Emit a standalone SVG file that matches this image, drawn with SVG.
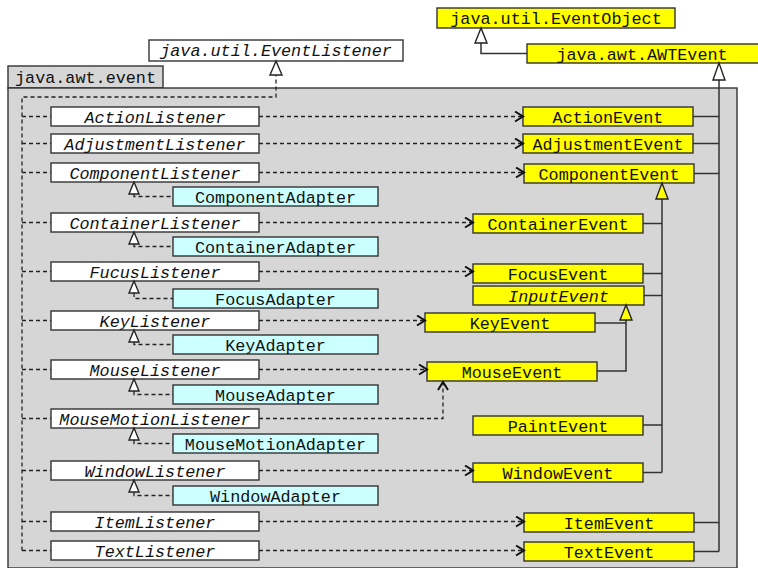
<svg xmlns="http://www.w3.org/2000/svg" width="758" height="568" viewBox="0 0 758 568">
<style>
text{font-family:"Liberation Mono","Courier New",monospace;font-size:16.8px;fill:#111;text-anchor:middle}
.it{font-style:italic}
.box{stroke:#333;stroke-width:1.4}
.lis{fill:#ffffff}
.ada{fill:#ccffff}
.evt{fill:#ffff00}
.pkg{fill:#d6d6d6;stroke:#333;stroke-width:1.4}
.dash{fill:none;stroke:#222;stroke-width:1.3;stroke-dasharray:4 3}
.solid{fill:none;stroke:#333;stroke-width:1.5}
.tri{fill:#fff;stroke:#222;stroke-width:1.4}
.triy{fill:#ffff00;stroke:#222;stroke-width:1.4}
</style>
<defs>
<marker id="open" markerWidth="12" markerHeight="12" refX="9" refY="6" orient="auto" markerUnits="userSpaceOnUse">
<path d="M1,1 L9,6 L1,11" fill="none" stroke="#111" stroke-width="2"/>
</marker>
</defs>

<g id="package">
<rect class="pkg" x="8" y="66" width="155" height="22"/>
<rect class="pkg" x="8" y="88" width="729" height="480"/>
<text x="85.5" y="83">java.awt.event</text>
</g>

<g id="EventListener"><rect class="box lis" x="149" y="40" width="254" height="21"/><text class="it" x="276" y="56">java.util.EventListener</text></g>
<g id="EventObject"><rect class="box evt" x="437" y="8" width="238" height="20"/><text x="556" y="24">java.util.EventObject</text></g>
<g id="AWTEvent"><rect class="box evt" x="527" y="44" width="232" height="19"/><text x="642" y="60">java.awt.AWTEvent</text></g>

<g id="ActionListener"><rect class="box lis" x="51" y="107" width="208" height="19"/><text class="it" x="155" y="122.5">ActionListener</text></g>
<g id="AdjustmentListener"><rect class="box lis" x="51" y="134" width="208" height="19"/><text class="it" x="155" y="149.5">AdjustmentListener</text></g>
<g id="ComponentListener"><rect class="box lis" x="51" y="163" width="208" height="19"/><text class="it" x="155" y="178.5">ComponentListener</text></g>
<g id="ContainerListener"><rect class="box lis" x="51" y="213" width="208" height="19"/><text class="it" x="155" y="228.5">ContainerListener</text></g>
<g id="FucusListener"><rect class="box lis" x="51" y="262" width="208" height="19"/><text class="it" x="155" y="277.5">FucusListener</text></g>
<g id="KeyListener"><rect class="box lis" x="51" y="311" width="208" height="19"/><text class="it" x="155" y="326.5">KeyListener</text></g>
<g id="MouseListener"><rect class="box lis" x="51" y="360" width="208" height="19"/><text class="it" x="155" y="375.5">MouseListener</text></g>
<g id="MouseMotionListener"><rect class="box lis" x="51" y="409" width="208" height="19"/><text class="it" x="155" y="424.5">MouseMotionListener</text></g>
<g id="WindowListener"><rect class="box lis" x="51" y="461" width="208" height="19"/><text class="it" x="155" y="476.5">WindowListener</text></g>
<g id="ItemListener"><rect class="box lis" x="51" y="512" width="208" height="19"/><text class="it" x="155" y="527.5">ItemListener</text></g>
<g id="TextListener"><rect class="box lis" x="51" y="541" width="208" height="19"/><text class="it" x="155" y="556.5">TextListener</text></g>

<g id="ComponentAdapter"><rect class="box ada" x="173" y="187" width="205" height="19"/><text x="275.5" y="202.5">ComponentAdapter</text></g>
<g id="ContainerAdapter"><rect class="box ada" x="173" y="237" width="205" height="19"/><text x="275.5" y="252.5">ContainerAdapter</text></g>
<g id="FocusAdapter"><rect class="box ada" x="173" y="289" width="205" height="19"/><text x="275.5" y="304.5">FocusAdapter</text></g>
<g id="KeyAdapter"><rect class="box ada" x="173" y="335" width="205" height="19"/><text x="275.5" y="350.5">KeyAdapter</text></g>
<g id="MouseAdapter"><rect class="box ada" x="173" y="385" width="205" height="19"/><text x="275.5" y="400.5">MouseAdapter</text></g>
<g id="MouseMotionAdapter"><rect class="box ada" x="173" y="434" width="205" height="19"/><text x="275.5" y="449.5">MouseMotionAdapter</text></g>
<g id="WindowAdapter"><rect class="box ada" x="173" y="486" width="205" height="19"/><text x="275.5" y="501.5">WindowAdapter</text></g>

<g id="ActionEvent"><rect class="box evt" x="523" y="107" width="170" height="19"/><text x="608" y="122.5">ActionEvent</text></g>
<g id="AdjustmentEvent"><rect class="box evt" x="523" y="134" width="170" height="19"/><text x="608" y="149.5">AdjustmentEvent</text></g>
<g id="ComponentEvent"><rect class="box evt" x="524" y="164" width="170" height="19"/><text x="609" y="179.5">ComponentEvent</text></g>
<g id="ContainerEvent"><rect class="box evt" x="473" y="214" width="170" height="19"/><text x="558" y="229.5">ContainerEvent</text></g>
<g id="FocusEvent"><rect class="box evt" x="473" y="264" width="170" height="19"/><text x="558" y="279.5">FocusEvent</text></g>
<g id="InputEvent"><rect class="box evt" x="473" y="286" width="171" height="19"/><text class="it" x="558.5" y="301.5">InputEvent</text></g>
<g id="KeyEvent"><rect class="box evt" x="425" y="313" width="170" height="19"/><text x="510" y="328.5">KeyEvent</text></g>
<g id="MouseEvent"><rect class="box evt" x="427" y="362" width="170" height="19"/><text x="512" y="377.5">MouseEvent</text></g>
<g id="PaintEvent"><rect class="box evt" x="473" y="416" width="170" height="19"/><text x="558" y="431.5">PaintEvent</text></g>
<g id="WindowEvent"><rect class="box evt" x="473" y="463" width="170" height="19"/><text x="558" y="478.5">WindowEvent</text></g>
<g id="ItemEvent"><rect class="box evt" x="524" y="513" width="170" height="19"/><text x="609" y="528.5">ItemEvent</text></g>
<g id="TextEvent"><rect class="box evt" x="524" y="542" width="170" height="19"/><text x="609" y="557.5">TextEvent</text></g>

<g id="connectors">
<!-- listener realization trunk -->
<path class="dash" d="M22,550.5 V97 H276 V75"/>
<path class="dash" d="M22,116.5 H51 M22,143.5 H51 M22,172.5 H51 M22,222.5 H51 M22,271.5 H51 M22,320.5 H51 M22,369.5 H51 M22,418.5 H51 M22,470.5 H51 M22,521.5 H51 M22,550.5 H51"/>
<polygon class="tri" points="276,61 270,75 282,75"/>

<!-- adapters -->
<path class="dash" d="M134,194 V196.5 H173 M134,244 V246.5 H173 M134,293 V298.5 H173 M134,342 V344.5 H173 M134,391 V394.5 H173 M134,440 V443.5 H173 M134,492 V495.5 H173"/>
<polygon class="tri" points="134,182 129,194 139,194"/>
<polygon class="tri" points="134,232 129,244 139,244"/>
<polygon class="tri" points="134,281 129,293 139,293"/>
<polygon class="tri" points="134,330 129,342 139,342"/>
<polygon class="tri" points="134,379 129,391 139,391"/>
<polygon class="tri" points="134,428 129,440 139,440"/>
<polygon class="tri" points="134,480 129,492 139,492"/>

<!-- listener to event uses -->
<path class="dash" marker-end="url(#open)" d="M259,116.5 H523"/>
<path class="dash" marker-end="url(#open)" d="M259,143.5 H523"/>
<path class="dash" marker-end="url(#open)" d="M259,172.5 H524"/>
<path class="dash" marker-end="url(#open)" d="M259,222.5 H473"/>
<path class="dash" marker-end="url(#open)" d="M259,271.5 H473"/>
<path class="dash" marker-end="url(#open)" d="M259,320.5 H425"/>
<path class="dash" marker-end="url(#open)" d="M259,369.5 H427"/>
<path class="dash" marker-end="url(#open)" d="M259,418.5 H443 V382"/>
<path class="dash" marker-end="url(#open)" d="M259,470.5 H473"/>
<path class="dash" marker-end="url(#open)" d="M259,521.5 H524"/>
<path class="dash" marker-end="url(#open)" d="M259,550.5 H524"/>

<!-- AWTEvent generalization -->
<path class="solid" d="M693,116.5 H719 M693,143.5 H719 M694,173.5 H719 M694,522.5 H719 M694,551.5 H719 M719,551.5 V80"/>
<polygon class="tri" points="719,63 713,80 725,80"/>

<!-- EventObject generalization -->
<path class="solid" d="M527,53.5 H481 V43"/>
<polygon class="tri" points="481,28 475,43 487,43"/>

<!-- ComponentEvent generalization -->
<path class="solid" d="M643,223.5 H662 M643,273.5 H662 M644,295.5 H662 M643,425 H662 M643,472.5 H662 M662,472.5 V199"/>
<polygon class="triy" points="662,183 656,199 668,199"/>

<!-- InputEvent generalization -->
<path class="solid" d="M595,323 H626 M597,371 H626 V320"/>
<polygon class="triy" points="626,305 620,320 632,320"/>
</g>
</svg>
